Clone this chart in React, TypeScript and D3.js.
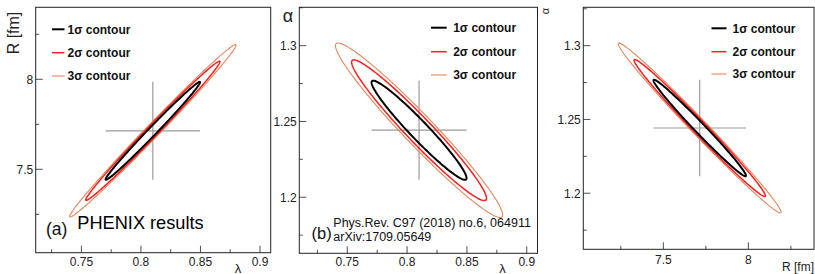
import { useEffect } from 'react';
import * as d3 from 'd3';

// contour levels (legend order)
const LEVEL_LABELS = ['1σ contour', '2σ contour', '3σ contour'];
const LEVEL_SCALES = [1, 1.42, 1.76];
const LEVEL_COLORS = ['#000000', '#ff1f1f', '#e3875a'];
const LEVEL_WIDTHS = [2, 1.5, 1.1];

// fit results: mean, sigma
const LAMBDA_FIT = [0.81, 0.0397];
const R_FIT = [7.714, 0.272];
const ALPHA_FIT = [1.2442, 0.0327];
// correlation of each contour (1σ, 2σ, 3σ)
const RHO_LAMBDA_R = [0.9925, 0.9932, 0.9938];
const RHO_LAMBDA_ALPHA = [-0.965, -0.967, -0.969];
const RHO_R_ALPHA = [-0.988, -0.99, -0.991];

// axis ticks
const LAMBDA_MAJOR = [0.75, 0.8, 0.85, 0.9];
const LAMBDA_MINOR = [0.725, 0.775, 0.825, 0.875];
const R_MAJOR = [7.5, 8];
const R_MINOR = [7.25, 7.75, 8.25];
const ALPHA_MAJOR = [1.2, 1.25, 1.3];
const ALPHA_MINOR = [1.175, 1.225, 1.275, 1.325];

const FONT = '"Liberation Sans", Arial, Helvetica, sans-serif';
const FRAME = '#222';
const CROSS = '#9a9a9a';

interface PanelProps {
  left: number;
  right: number;
  top: number;
  bottom: number;
  xDomain: [number, number];
  yDomain: [number, number];
  xFit: number[];
  yFit: number[];
  rho: number[];
  xMajor: number[];
  xMinor: number[];
  yMajor: number[];
  yMinor: number[];
  legendX: number;
  legendY: number[];
  lineLen: number;
  textGap: number;
  labelY: number;
}

function Panel(p: PanelProps) {
  const x = d3.scaleLinear().domain(p.xDomain).range([p.left, p.right]);
  const y = d3.scaleLinear().domain(p.yDomain).range([p.bottom, p.top]);
  const [mx, sx] = p.xFit;
  const [my, sy] = p.yFit;
  const ts = d3.range(0, 360, 2).map((d) => (d * Math.PI) / 180);

  const contour = (k: number, rho: number) => {
    const q = Math.sqrt(1 - rho * rho);
    return (
      d3
        .line<number>()
        .x((t) => x(mx + k * sx * Math.cos(t)))
        .y((t) => y(my + k * sy * (rho * Math.cos(t) + q * Math.sin(t))))
        .curve(d3.curveLinearClosed)(ts) ?? ''
    );
  };

  const order = [2, 1, 0];
  const clipId = `clip-${Math.round(p.left)}`;

  return (
    <g>
      <defs>
        <clipPath id={clipId}>
          <rect x={p.left} y={p.top} width={p.right - p.left} height={p.bottom - p.top} />
        </clipPath>
      </defs>
      <g clipPath={`url(#${clipId})`}>
        {/* error cross */}
        <line x1={x(mx - sx)} x2={x(mx + sx)} y1={y(my)} y2={y(my)} stroke={CROSS} strokeWidth={1.2} />
        <line x1={x(mx)} x2={x(mx)} y1={y(my - sy)} y2={y(my + sy)} stroke={CROSS} strokeWidth={1.2} />
        {order.map((i) => (
          <path
            key={i}
            d={contour(LEVEL_SCALES[i], p.rho[i])}
            fill="none"
            stroke={LEVEL_COLORS[i]}
            strokeWidth={LEVEL_WIDTHS[i]}
            strokeLinejoin="round"
          />
        ))}
      </g>
      {/* ticks, pointing inward */}
      {p.xMajor.map((v) => (
        <g key={`xM${v}`}>
          <line x1={x(v)} x2={x(v)} y1={p.bottom} y2={p.bottom - 7} stroke={FRAME} strokeWidth={0.8} />
          <text x={x(v)} y={p.labelY} textAnchor="middle" fontSize={12} fill="#222">
            {String(v)}
          </text>
        </g>
      ))}
      {p.xMinor.map((v) => (
        <line key={`xm${v}`} x1={x(v)} x2={x(v)} y1={p.bottom} y2={p.bottom - 3.5} stroke={FRAME} strokeWidth={0.8} />
      ))}
      {p.yMajor.map((v) => (
        <g key={`yM${v}`}>
          <line x1={p.left} x2={p.left + 7} y1={y(v)} y2={y(v)} stroke={FRAME} strokeWidth={0.8} />
          <text x={p.left - 2.5} y={y(v)} dy="0.36em" textAnchor="end" fontSize={12} fill="#222">
            {String(v)}
          </text>
        </g>
      ))}
      {p.yMinor
        .filter((v) => v <= p.yDomain[1])
        .map((v) => (
          <line key={`ym${v}`} x1={p.left} x2={p.left + 3.5} y1={y(v)} y2={y(v)} stroke={FRAME} strokeWidth={0.8} />
        ))}
      <rect
        x={p.left}
        y={p.top}
        width={p.right - p.left}
        height={p.bottom - p.top}
        fill="none"
        stroke={FRAME}
        strokeWidth={1}
      />
      {/* legend */}
      {LEVEL_LABELS.map((label, i) => (
        <g key={label}>
          <line
            x1={p.legendX}
            x2={p.legendX + p.lineLen}
            y1={p.legendY[i]}
            y2={p.legendY[i]}
            stroke={LEVEL_COLORS[i]}
            strokeWidth={LEVEL_WIDTHS[i]}
          />
          <text
            x={p.legendX + p.lineLen + p.textGap}
            y={p.legendY[i]}
            dy="0.36em"
            fontSize={12}
            fontWeight="bold"
            fill="#111"
          >
            {label}
          </text>
        </g>
      ))}
    </g>
  );
}

export default function App() {
  useEffect(() => {
    document.body.style.margin = '0';
  }, []);

  return (
    <svg width={815} height={274} style={{ display: 'block', background: '#fff', fontFamily: FONT }}>
      <rect width={815} height={274} fill="#fff" />
      {/* (a) R vs lambda */}
      <Panel
        left={35.7}
        right={270.7}
        top={7.3}
        bottom={252.7}
        xDomain={[0.7116, 0.909]}
        yDomain={[7.037, 8.4]}
        xFit={LAMBDA_FIT}
        yFit={R_FIT}
        rho={RHO_LAMBDA_R}
        xMajor={LAMBDA_MAJOR}
        xMinor={LAMBDA_MINOR}
        yMajor={R_MAJOR}
        yMinor={R_MINOR}
        legendX={52}
        legendY={[29.3, 52.7, 76]}
        lineLen={12.5}
        textGap={3}
        labelY={266}
      />
      <text transform="translate(19,11.7) rotate(-90)" textAnchor="end" fontSize={16} fill="#222">
        R [fm]
      </text>
      <text x={238} y={272.5} textAnchor="middle" fontSize={13} fill="#222">λ</text>
      <text x={46} y={234.5} fontSize={17.5} fill="#111">(a)</text>
      <text x={77.3} y={228.5} fontSize={18.2} fill="#000">PHENIX results</text>

      {/* (b) alpha vs lambda */}
      <Panel
        left={299.3}
        right={537.5}
        top={7.3}
        bottom={253.3}
        xDomain={[0.7099, 0.909]}
        yDomain={[1.163, 1.3253]}
        xFit={LAMBDA_FIT}
        yFit={ALPHA_FIT}
        rho={RHO_LAMBDA_ALPHA}
        xMajor={LAMBDA_MAJOR}
        xMinor={LAMBDA_MINOR}
        yMajor={ALPHA_MAJOR}
        yMinor={ALPHA_MINOR}
        legendX={431}
        legendY={[27.7, 51.7, 75]}
        lineLen={15.7}
        textGap={6.5}
        labelY={266}
      />
      <text x={288} y={22} textAnchor="middle" fontSize={18} fill="#222">α</text>
      <text x={502.5} y={272.5} textAnchor="middle" fontSize={13} fill="#222">λ</text>
      <text x={311.5} y={238.5} fontSize={16.5} fill="#111">(b)</text>
      <text x={333.3} y={227} fontSize={12.5} fill="#111">Phys.Rev. C97 (2018) no.6, 064911</text>
      <text x={333.3} y={240.5} fontSize={12.5} fill="#111">arXiv:1709.05649</text>

      {/* (c) alpha vs R */}
      <Panel
        left={583.3}
        right={814}
        top={7.3}
        bottom={249.3}
        xDomain={[7.0294, 8.386]}
        yDomain={[1.162, 1.326]}
        xFit={R_FIT}
        yFit={ALPHA_FIT}
        rho={RHO_R_ALPHA}
        xMajor={R_MAJOR}
        xMinor={R_MINOR}
        yMajor={ALPHA_MAJOR}
        yMinor={ALPHA_MINOR}
        legendX={711.5}
        legendY={[28.3, 51.7, 74]}
        lineLen={15}
        textGap={6}
        labelY={264}
      />
      <text transform="translate(548.5,8) rotate(-90)" textAnchor="end" fontSize={11} fill="#222">α</text>
      <text x={814} y={271} textAnchor="end" fontSize={12} fill="#222">R [fm]</text>
    </svg>
  );
}
